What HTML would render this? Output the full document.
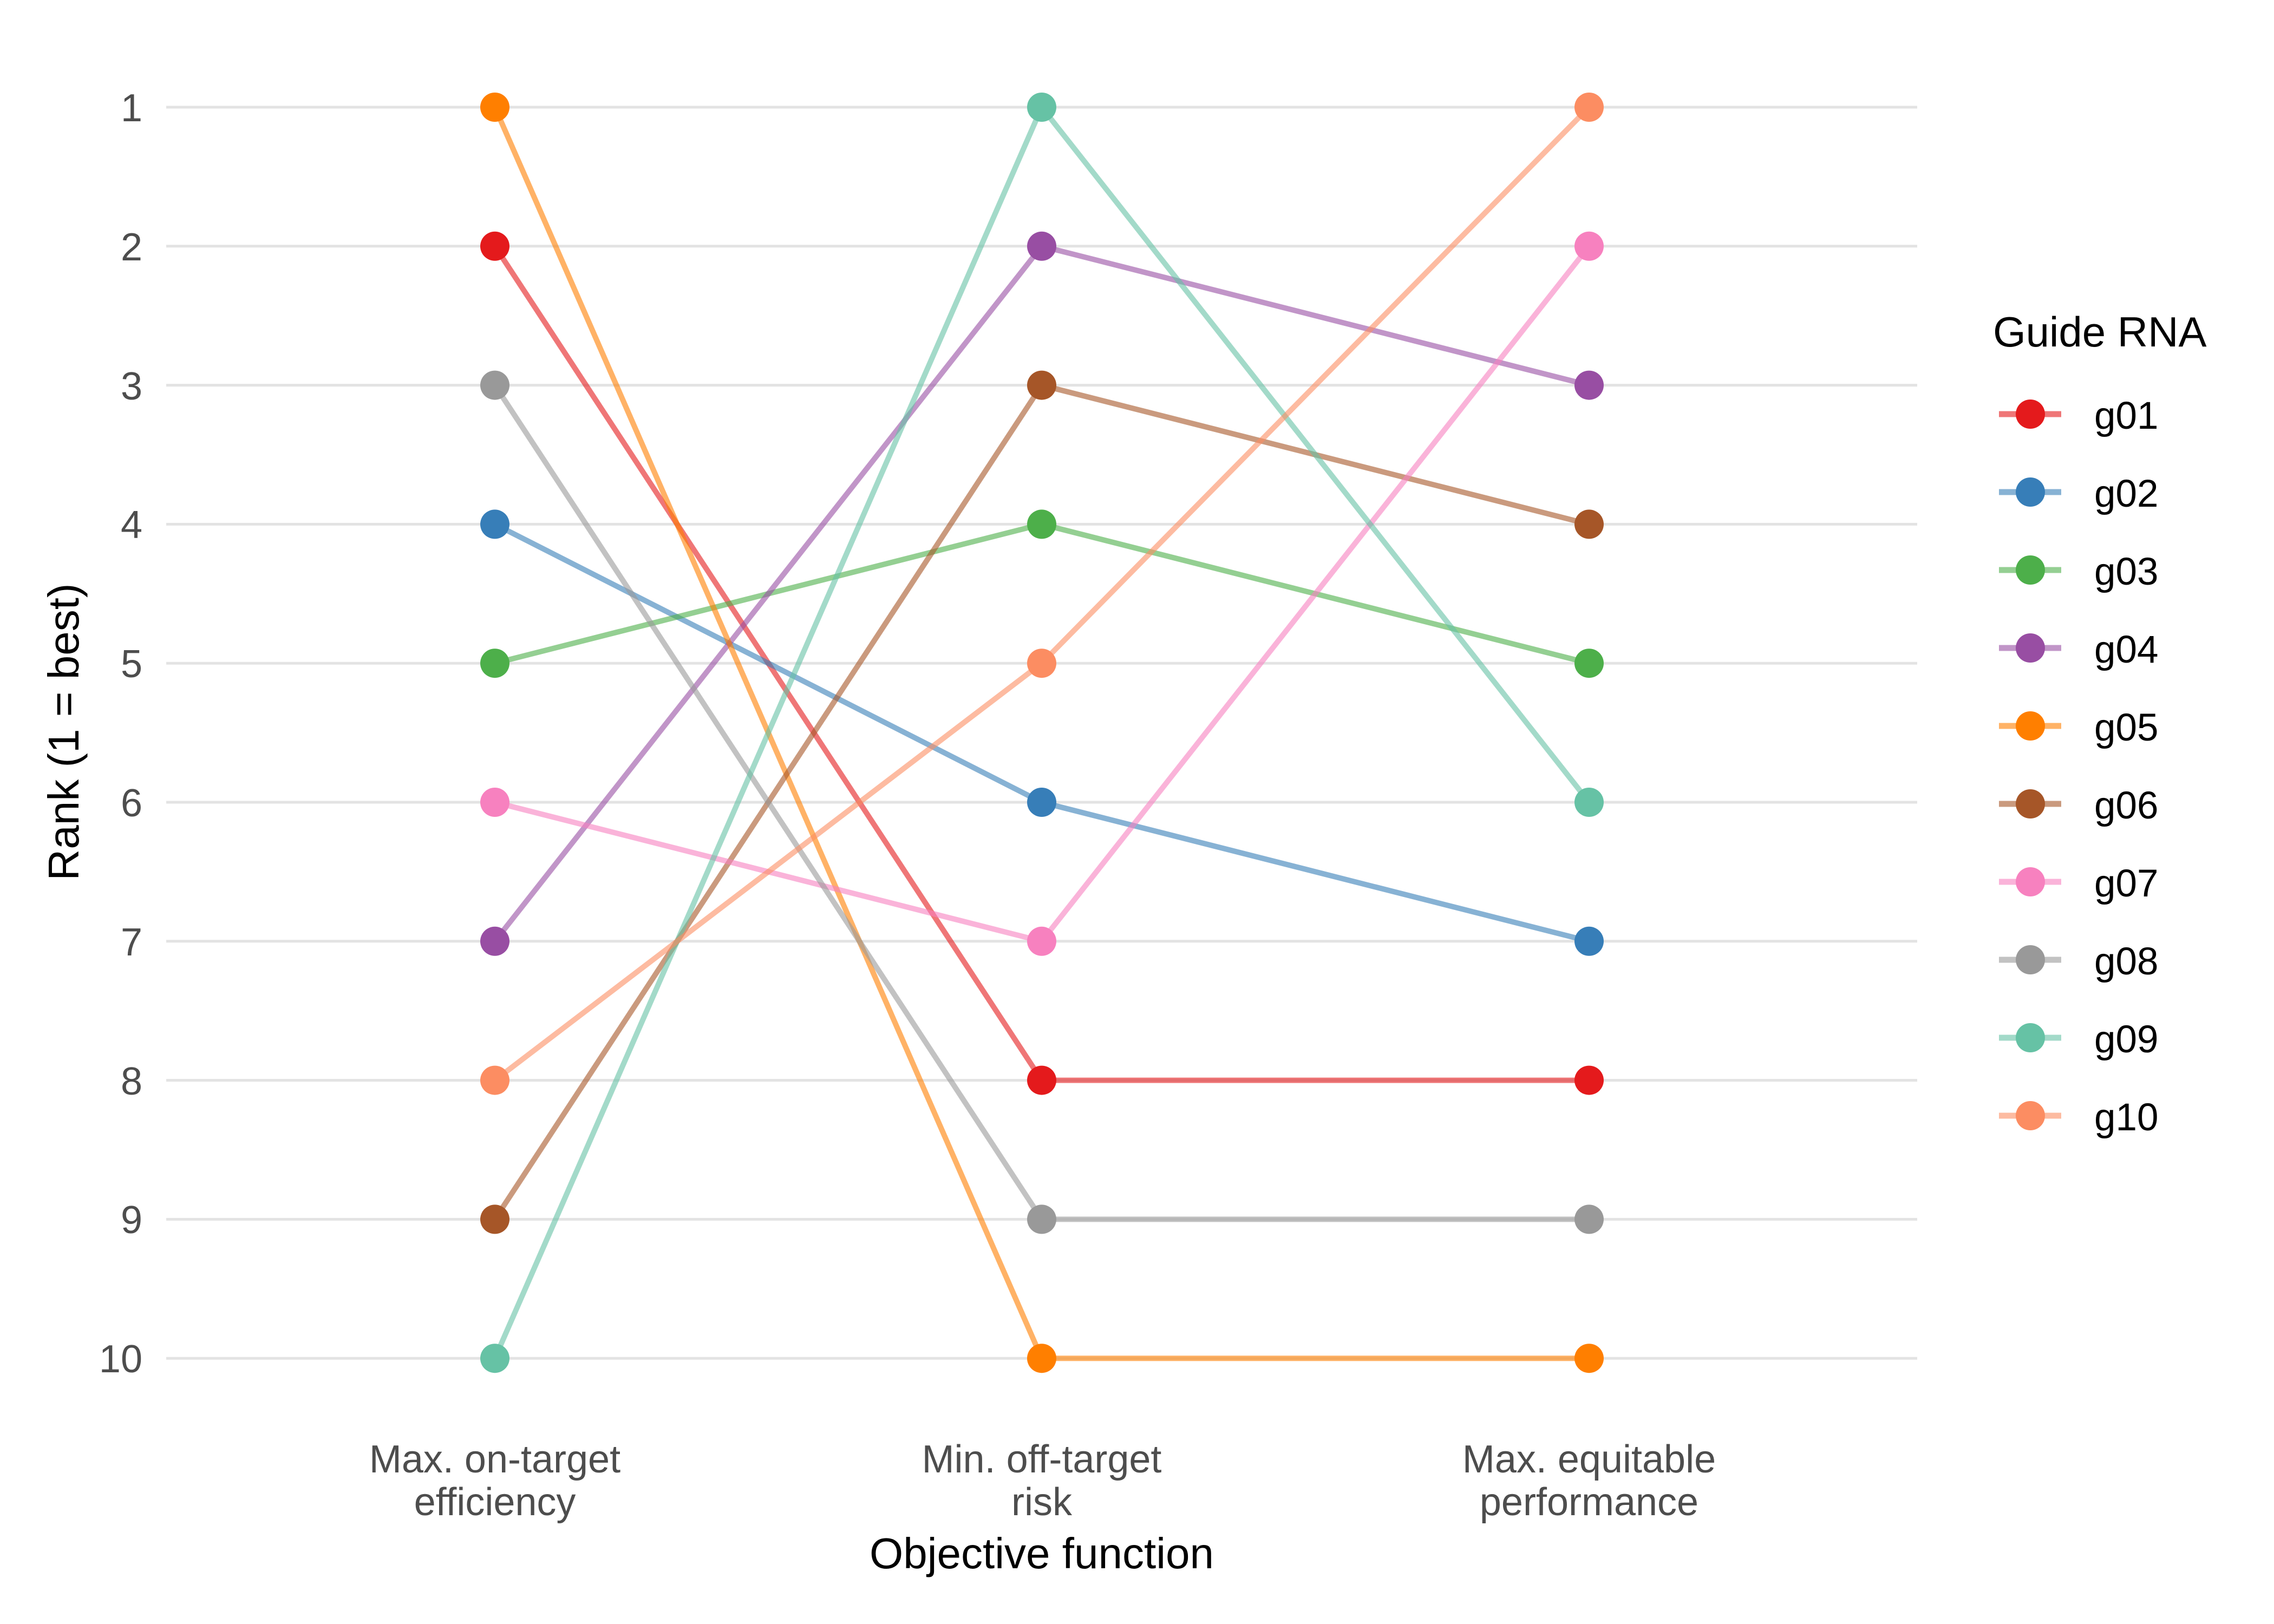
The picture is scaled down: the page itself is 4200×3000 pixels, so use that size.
<!DOCTYPE html>
<html><head><meta charset="utf-8"><style>html,body{margin:0;padding:0;background:#fff}svg{display:block}</style></head>
<body>
<svg width="4200" height="3000" viewBox="0 0 4200 3000" xmlns="http://www.w3.org/2000/svg" font-family="Liberation Sans, Arial, sans-serif">
<rect width="4200" height="3000" fill="#fff"/>
<g stroke="#e3e3e3" stroke-width="5">
<line x1="307" x2="3541" y1="198" y2="198"/>
<line x1="307" x2="3541" y1="454.8" y2="454.8"/>
<line x1="307" x2="3541" y1="711.6" y2="711.6"/>
<line x1="307" x2="3541" y1="968.4" y2="968.4"/>
<line x1="307" x2="3541" y1="1225.2" y2="1225.2"/>
<line x1="307" x2="3541" y1="1482" y2="1482"/>
<line x1="307" x2="3541" y1="1738.8" y2="1738.8"/>
<line x1="307" x2="3541" y1="1995.6" y2="1995.6"/>
<line x1="307" x2="3541" y1="2252.4" y2="2252.4"/>
<line x1="307" x2="3541" y1="2509.2" y2="2509.2"/>
</g>
<g fill="#4d4d4d" font-size="72" text-anchor="end">
<text x="263" y="224">1</text>
<text x="263" y="481">2</text>
<text x="263" y="738">3</text>
<text x="263" y="994">4</text>
<text x="263" y="1251">5</text>
<text x="263" y="1508">6</text>
<text x="263" y="1765">7</text>
<text x="263" y="2022">8</text>
<text x="263" y="2278">9</text>
<text x="263" y="2535">10</text>
</g>
<g fill="#4d4d4d" font-size="72" text-anchor="middle">
<text x="914" y="2720">Max. on-target</text><text x="914" y="2799">efficiency</text>
<text x="1924" y="2720">Min. off-target</text><text x="1924" y="2799">risk</text>
<text x="2935" y="2720">Max. equitable</text><text x="2935" y="2799">performance</text>
</g>
<text x="1924" y="2897" font-size="80" text-anchor="middle" fill="#000">Objective function</text>
<text transform="translate(145,1352) rotate(-90)" font-size="80" text-anchor="middle" fill="#000">Rank (1 = best)</text>
<g fill="none" stroke-width="10" stroke-opacity="0.6" stroke-linejoin="round">
<polyline stroke="#E41A1C" points="914,454.8 1924,1995.6 2935,1995.6"/>
<polyline stroke="#377EB8" points="914,968.4 1924,1482 2935,1738.8"/>
<polyline stroke="#4DAF4A" points="914,1225.2 1924,968.4 2935,1225.2"/>
<polyline stroke="#984EA3" points="914,1738.8 1924,454.8 2935,711.6"/>
<polyline stroke="#FF7F00" points="914,198 1924,2509.2 2935,2509.2"/>
<polyline stroke="#A65628" points="914,2252.4 1924,711.6 2935,968.4"/>
<polyline stroke="#F781BF" points="914,1482 1924,1738.8 2935,454.8"/>
<polyline stroke="#999999" points="914,711.6 1924,2252.4 2935,2252.4"/>
<polyline stroke="#66C2A5" points="914,2509.2 1924,198 2935,1482"/>
<polyline stroke="#FC8D62" points="914,1995.6 1924,1225.2 2935,198"/>
</g>
<g>
<g fill="#E41A1C"><circle cx="914" cy="454.8" r="27"/><circle cx="1924" cy="1995.6" r="27"/><circle cx="2935" cy="1995.6" r="27"/></g>
<g fill="#377EB8"><circle cx="914" cy="968.4" r="27"/><circle cx="1924" cy="1482" r="27"/><circle cx="2935" cy="1738.8" r="27"/></g>
<g fill="#4DAF4A"><circle cx="914" cy="1225.2" r="27"/><circle cx="1924" cy="968.4" r="27"/><circle cx="2935" cy="1225.2" r="27"/></g>
<g fill="#984EA3"><circle cx="914" cy="1738.8" r="27"/><circle cx="1924" cy="454.8" r="27"/><circle cx="2935" cy="711.6" r="27"/></g>
<g fill="#FF7F00"><circle cx="914" cy="198" r="27"/><circle cx="1924" cy="2509.2" r="27"/><circle cx="2935" cy="2509.2" r="27"/></g>
<g fill="#A65628"><circle cx="914" cy="2252.4" r="27"/><circle cx="1924" cy="711.6" r="27"/><circle cx="2935" cy="968.4" r="27"/></g>
<g fill="#F781BF"><circle cx="914" cy="1482" r="27"/><circle cx="1924" cy="1738.8" r="27"/><circle cx="2935" cy="454.8" r="27"/></g>
<g fill="#999999"><circle cx="914" cy="711.6" r="27"/><circle cx="1924" cy="2252.4" r="27"/><circle cx="2935" cy="2252.4" r="27"/></g>
<g fill="#66C2A5"><circle cx="914" cy="2509.2" r="27"/><circle cx="1924" cy="198" r="27"/><circle cx="2935" cy="1482" r="27"/></g>
<g fill="#FC8D62"><circle cx="914" cy="1995.6" r="27"/><circle cx="1924" cy="1225.2" r="27"/><circle cx="2935" cy="198" r="27"/></g>
</g>
<text x="3681" y="640" font-size="78" fill="#000">Guide RNA</text>
<g font-size="71" fill="#000">
<g transform="translate(0,765)"><line x1="3692" x2="3807" y1="0" y2="0" stroke="#E41A1C" stroke-opacity="0.6" stroke-width="11"/><circle cx="3750" cy="0" r="27" fill="#E41A1C"/><text x="3868" y="27">g01</text></g>
<g transform="translate(0,909)"><line x1="3692" x2="3807" y1="0" y2="0" stroke="#377EB8" stroke-opacity="0.6" stroke-width="11"/><circle cx="3750" cy="0" r="27" fill="#377EB8"/><text x="3868" y="27">g02</text></g>
<g transform="translate(0,1053)"><line x1="3692" x2="3807" y1="0" y2="0" stroke="#4DAF4A" stroke-opacity="0.6" stroke-width="11"/><circle cx="3750" cy="0" r="27" fill="#4DAF4A"/><text x="3868" y="27">g03</text></g>
<g transform="translate(0,1197)"><line x1="3692" x2="3807" y1="0" y2="0" stroke="#984EA3" stroke-opacity="0.6" stroke-width="11"/><circle cx="3750" cy="0" r="27" fill="#984EA3"/><text x="3868" y="27">g04</text></g>
<g transform="translate(0,1341)"><line x1="3692" x2="3807" y1="0" y2="0" stroke="#FF7F00" stroke-opacity="0.6" stroke-width="11"/><circle cx="3750" cy="0" r="27" fill="#FF7F00"/><text x="3868" y="27">g05</text></g>
<g transform="translate(0,1485)"><line x1="3692" x2="3807" y1="0" y2="0" stroke="#A65628" stroke-opacity="0.6" stroke-width="11"/><circle cx="3750" cy="0" r="27" fill="#A65628"/><text x="3868" y="27">g06</text></g>
<g transform="translate(0,1629)"><line x1="3692" x2="3807" y1="0" y2="0" stroke="#F781BF" stroke-opacity="0.6" stroke-width="11"/><circle cx="3750" cy="0" r="27" fill="#F781BF"/><text x="3868" y="27">g07</text></g>
<g transform="translate(0,1773)"><line x1="3692" x2="3807" y1="0" y2="0" stroke="#999999" stroke-opacity="0.6" stroke-width="11"/><circle cx="3750" cy="0" r="27" fill="#999999"/><text x="3868" y="27">g08</text></g>
<g transform="translate(0,1917)"><line x1="3692" x2="3807" y1="0" y2="0" stroke="#66C2A5" stroke-opacity="0.6" stroke-width="11"/><circle cx="3750" cy="0" r="27" fill="#66C2A5"/><text x="3868" y="27">g09</text></g>
<g transform="translate(0,2061)"><line x1="3692" x2="3807" y1="0" y2="0" stroke="#FC8D62" stroke-opacity="0.6" stroke-width="11"/><circle cx="3750" cy="0" r="27" fill="#FC8D62"/><text x="3868" y="27">g10</text></g>
</g>
</svg>
</body></html>
